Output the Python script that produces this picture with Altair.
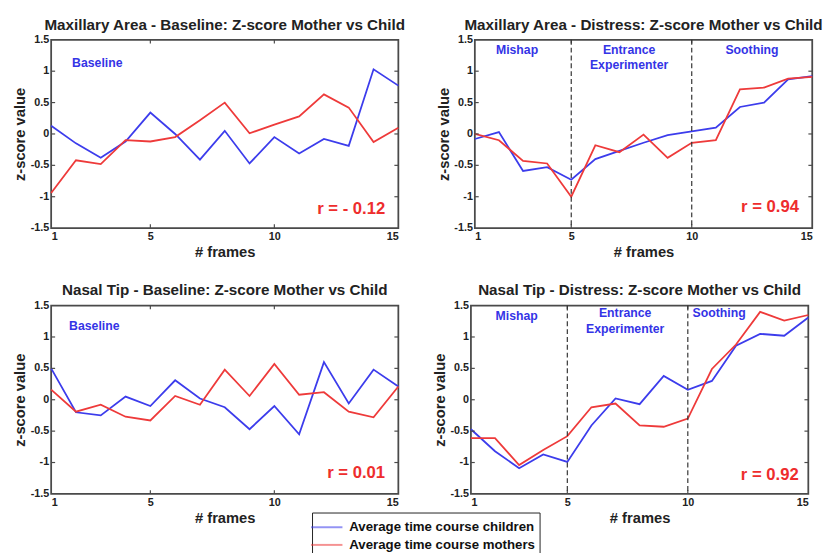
import altair as alt
import pandas as pd

# ---------------- data ----------------
frames = list(range(1, 16))

series_names = ["Average time course children", "Average time course mothers"]

max_base_child = [0.13, -0.15, -0.38, -0.12, 0.34, 0.00, -0.41, 0.05, -0.47, -0.05, -0.31, -0.08, -0.19, 1.03, 0.77]
max_base_mother = [-0.94, -0.42, -0.48, -0.10, -0.12, -0.05, 0.22, 0.50, 0.01, 0.15, 0.28, 0.63, 0.42, -0.13, 0.10]

max_dis_child = [-0.08, 0.03, -0.59, -0.53, -0.73, -0.40, -0.27, -0.14, -0.02, 0.04, 0.10, 0.43, 0.50, 0.87, 0.92]
max_dis_mother = [0.00, -0.10, -0.43, -0.47, -1.00, -0.18, -0.29, -0.01, -0.38, -0.14, -0.10, 0.71, 0.74, 0.88, 0.91]

nas_base_child = [0.50, -0.20, -0.25, 0.05, -0.10, 0.31, 0.02, -0.12, -0.47, -0.10, -0.55, 0.60, -0.06, 0.48, 0.21]
nas_base_mother = [0.16, -0.19, -0.08, -0.27, -0.33, 0.06, -0.08, 0.48, 0.06, 0.57, 0.08, 0.12, -0.19, -0.28, 0.21]

nas_dis_child = [-0.47, -0.82, -1.09, -0.87, -0.99, -0.41, 0.02, -0.07, 0.38, 0.16, 0.30, 0.86, 1.05, 1.02, 1.31]
nas_dis_mother = [-0.61, -0.61, -1.04, -0.80, -0.58, -0.12, -0.06, -0.41, -0.43, -0.30, 0.49, 0.88, 1.40, 1.26, 1.35]

titles = [
    "Maxillary Area - Baseline: Z-score Mother vs Child",
    "Maxillary Area - Distress: Z-score Mother vs Child",
    "Nasal Tip - Baseline: Z-score Mother vs Child",
    "Nasal Tip - Distress: Z-score Mother vs Child",
]
r_texts = ["r = - 0.12", "r = 0.94", "r = 0.01", "r = 0.92"]
phase_boundaries = [5, 10]
x_tick_values = [1, 5, 10, 15]
y_tick_values = [-1.5, -1.0, -0.5, 0.0, 0.5, 1.0, 1.5]
y_tick_labels = ["-1.5", "-1", "-0.5", "0", "0.5", "1", "1.5"]
inner_x_ticks = [5, 10]
inner_y_ticks = [-1.0, -0.5, 0.0, 0.5, 1.0]

# ---------------- styling ----------------
FONT = "Liberation Sans"
BLUE = "#3c3cec"
RED = "#ee3a3a"
TXT_BLUE = "#3434e6"
TXT_RED = "#ee2d2d"
FRAME = "#4a4a4a"

xscale = alt.Scale(domain=[1, 15], nice=False, zero=False)
yscale = alt.Scale(domain=[-1.5, 1.5], nice=False, zero=False)

color_enc = alt.Color(
    "series:N",
    scale=alt.Scale(domain=series_names, range=[BLUE, RED]),
    legend=alt.Legend(
        title=None,
        orient="none",
        legendX=266,
        legendY=482,
        direction="vertical",
        strokeColor="#222",
        fillColor="white",
        padding=4,
        symbolType="M-1.6,0H1.6",
        symbolSize=400,
        symbolStrokeWidth=2,
        symbolOpacity=0.55,
        labelOffset=12,
        labelLimit=400,
        labelFont=FONT,
        labelFontSize=13.5,
        labelFontWeight="bold",
        labelColor="#111",
        rowPadding=0,
        offset=0,
    ),
)


def panel(child, mother, title, width, r_text, distress, r_pos, phase_pos):
    df = pd.DataFrame({
        "frame": frames * 2,
        "value": child + mother,
        "series": [series_names[0]] * len(frames) + [series_names[1]] * len(frames),
    })
    x_axis = alt.Axis(values=x_tick_values, labelExpr="'' + datum.value", title="# frames",
                      labelOverlap=False)
    y_axis = alt.Axis(values=y_tick_values, labels=False, title="z-score value", titlePadding=24)

    lines = alt.Chart(df).mark_line(strokeWidth=1.8).encode(
        x=alt.X("frame:Q", scale=xscale, axis=x_axis),
        y=alt.Y("value:Q", scale=yscale, axis=y_axis),
        color=color_enc,
    )

    layers = [lines]

    # y tick labels
    ylab = pd.DataFrame({"v": y_tick_values, "lab": y_tick_labels})
    layers.append(alt.Chart(ylab).mark_text(
        font=FONT, fontSize=11, fontWeight="bold", color="#222",
        align="right", baseline="middle", dx=-2,
    ).encode(y=alt.Y("v:Q", scale=yscale), x=alt.value(0), text="lab:N"))

    # inward tick marks (MATLAB style box)
    tx = pd.DataFrame({"t": inner_x_ticks})
    ty = pd.DataFrame({"t": inner_y_ticks})
    tick_style = dict(color=FRAME, strokeWidth=1.2)
    layers.append(alt.Chart(tx).mark_rule(**tick_style).encode(
        x=alt.X("t:Q", scale=xscale), y=alt.datum(-1.5), y2=alt.datum(-1.44)))
    layers.append(alt.Chart(tx).mark_rule(**tick_style).encode(
        x=alt.X("t:Q", scale=xscale), y=alt.datum(1.5), y2=alt.datum(1.44)))
    layers.append(alt.Chart(ty).mark_rule(**tick_style).encode(
        y=alt.Y("t:Q", scale=yscale), x=alt.datum(1), x2=alt.datum(1.16)))
    layers.append(alt.Chart(ty).mark_rule(**tick_style).encode(
        y=alt.Y("t:Q", scale=yscale), x=alt.datum(15), x2=alt.datum(14.84)))

    if distress:
        pb = pd.DataFrame({"b": phase_boundaries})
        layers.append(alt.Chart(pb).mark_rule(color="#333", strokeWidth=1.2, strokeDash=[5, 3]).encode(
            x=alt.X("b:Q", scale=xscale)))

    # phase labels
    for (label, px, py) in phase_pos:
        layers.append(alt.Chart().mark_text(
            font=FONT, fontSize=12.5, fontWeight="bold", color=TXT_BLUE,
            align="center", baseline="middle", lineHeight=16,
        ).encode(x=alt.datum(px), y=alt.datum(py), text=alt.value(label)))

    # correlation label
    layers.append(alt.Chart().mark_text(
        font=FONT, fontSize=17, fontWeight="bold", color=TXT_RED,
        align="center", baseline="middle",
    ).encode(x=alt.datum(r_pos[0]), y=alt.datum(r_pos[1]), text=alt.value(r_text)))

    return alt.layer(*layers).properties(width=width, height=192, title=title)


p1 = panel(max_base_child, max_base_mother, titles[0], 354, r_texts[0], False,
           (13.1, -1.2), [("Baseline", 2.86, 1.13)])
p2 = panel(max_dis_child, max_dis_mother, titles[1], 344, r_texts[1], True,
           (13.25, -1.17), [("Mishap", 2.75, 1.34), (["Entrance", "Experimenter"], 7.4, 1.34), ("Soothing", 12.5, 1.34)])
p3 = panel(nas_base_child, nas_base_mother, titles[2], 354, r_texts[2], False,
           (13.3, -1.17), [("Baseline", 2.74, 1.18)])
p4 = panel(nas_dis_child, nas_dis_mother, titles[3], 344, r_texts[3], True,
           (13.4, -1.2), [("Mishap", 2.9, 1.33), (["Entrance", "Experimenter"], 7.4, 1.38), ("Soothing", 11.3, 1.38)])

top = alt.hconcat(p1, p2, spacing=29)
bottom = alt.hconcat(p3, p4, spacing=29)

chart = alt.vconcat(top, bottom, spacing=22).properties(
    padding={"left": 4, "top": 3, "right": 0, "bottom": 0},
    background="white",
).configure_view(
    stroke=FRAME, strokeWidth=1.8
).configure_axis(
    grid=False, domain=False, ticks=False, labelOverlap=False,
    labelFont=FONT, labelFontSize=11, labelFontWeight="bold", labelColor="#222",
    titleFont=FONT, titleFontSize=15, titleFontWeight="bold", titleColor="#222",
    labelPadding=3, titlePadding=3,
).configure_axisY(
    labels=False, titlePadding=24,
).configure_title(
    font=FONT, fontSize=15.5, fontWeight="bold", color="#222", offset=1, anchor="middle",
)

chart.save("out.html", embed_options={"renderer": "svg", "actions": False})
